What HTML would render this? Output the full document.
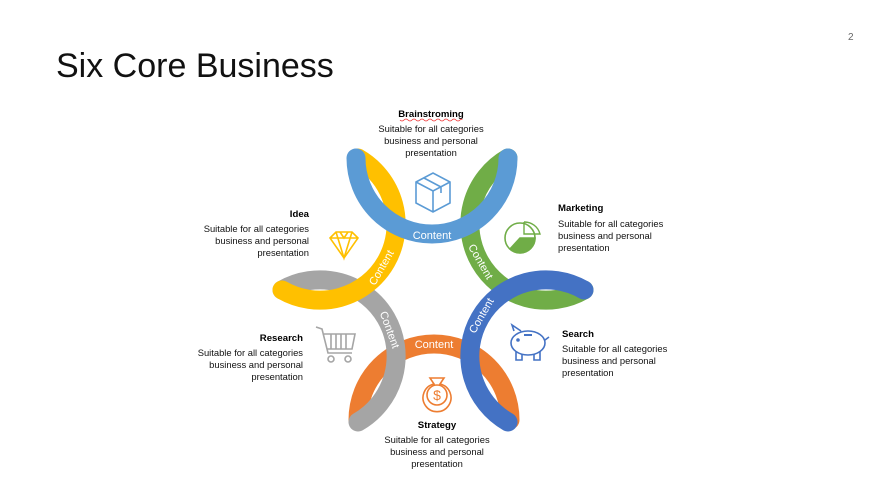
<!DOCTYPE html>
<html><head><meta charset="utf-8"><style>
body{margin:0;background:#fff;}
svg{display:block;font-family:"Liberation Sans",sans-serif;}
.t{font-size:9.4px;fill:#111;}
.b{font-size:9.6px;font-weight:bold;fill:#000;}
.c{font-size:11px;fill:#fff;}
</style></head><body>
<svg width="877" height="489" viewBox="0 0 877 489">
<rect width="877" height="489" fill="#fff"/>
<text x="56" y="77" font-size="34" fill="#111">Six Core Business</text>
<text x="848" y="40" font-size="10" fill="#666">2</text>

<g fill="none" stroke-width="19" stroke-linecap="round">
<path d="M358,420 A76,76 0 0 1 510,420" stroke="#ED7D31"/>
<path d="M282,290 A76,76 0 0 1 358,422" stroke="#A5A5A5"/>
<path d="M358,158 A76,76 0 0 1 282,290" stroke="#FFC000"/>
<path d="M508,158 A76,76 0 0 0 584,290" stroke="#70AD47"/>
<path d="M356,158 A76,76 0 0 0 508,158" stroke="#5B9BD5"/>
<path d="M584,290 A76,76 0 0 0 508,422" stroke="#4472C4"/>
</g>
<g dominant-baseline="middle" text-anchor="middle">
<text class="c" x="432" y="236">Content</text>
<text class="c" x="434" y="345">Content</text>
<text class="c" transform="translate(480,262) rotate(60)">Content</text>
<text class="c" transform="translate(482,316) rotate(-60)">Content</text>
<text class="c" transform="translate(389,330) rotate(70)">Content</text>
<text class="c" transform="translate(382,268) rotate(-60)">Content</text>
</g>

<g fill="none" stroke-width="1.6">
<g stroke="#5B9BD5"><path d="M416,182 L433,173 L450,182 L450,203 L433,212 L416,203 Z M416,182 L433,191 L450,182 M433,191 L433,212 M424,178 L441,187 L441,193"/></g>
<g stroke="#FFC000"><path d="M330,238 L336,232 L352,232 L358,238 L344,258 Z M330,238 L358,238 M336,232 L344,258 L352,232 M340,232 L344,238 L348,232"/></g>
<g stroke="#70AD47"><circle cx="520" cy="238" r="15"/><path d="M520,238 L535,238 A15,15 0 0 1 510,249 Z" fill="#70AD47"/><path d="M524,222 L524,234 L540,234 A16,16 0 0 0 524,222" stroke-width="1.4"/></g>
<g stroke="#A5A5A5"><path d="M316,327 L322,329 L328,353 L352,353 M324,334 L355,334 L352,349 L327,349 M331,334 L331,349 M336,334 L336,349 M341,334 L341,349 M346,334 L346,349"/><circle cx="331" cy="359" r="3"/><circle cx="348" cy="359" r="3"/></g>
<g stroke="#4472C4"><ellipse cx="528" cy="343" rx="17" ry="12"/><path d="M514,331 L512,325 L521,331"/><path d="M516,352 L516,360 L522,360 L522,354 M534,354 L534,360 L540,360 L540,351"/><path d="M545,340 L549,337"/><path d="M524,335 L532,335" stroke-width="2"/><circle cx="518" cy="340" r="1" fill="#4472C4"/></g>
<g stroke="#ED7D31"><path d="M430,378 L444,378 L440,384 A14,14 0 1 1 434,384 Z"/><circle cx="437" cy="395" r="10"/><text x="437" y="400" font-size="14" fill="#ED7D31" stroke="none" text-anchor="middle">$</text></g>
</g>

<g text-anchor="middle">
<text class="b" x="431" y="117">Brainstroming</text>
<path d="M400,120 q2,2 4,0 t4,0 t4,0 t4,0 t4,0 t4,0 t4,0 t4,0 t4,0 t4,0 t4,0 t4,0 t4,0 t4,0 t4,0 t2,0" stroke="#e33" stroke-width="0.8" fill="none"/>
<text class="t" x="431" y="132">Suitable for all categories</text>
<text class="t" x="431" y="144">business and personal</text>
<text class="t" x="431" y="156">presentation</text>
<text class="b" x="437" y="428">Strategy</text>
<text class="t" x="437" y="443">Suitable for all categories</text>
<text class="t" x="437" y="455">business and personal</text>
<text class="t" x="437" y="467">presentation</text>
</g>
<g text-anchor="end">
<text class="b" x="309" y="217">Idea</text>
<text class="t" x="309" y="232">Suitable for all categories</text>
<text class="t" x="309" y="244">business and personal</text>
<text class="t" x="309" y="256">presentation</text>
<text class="b" x="303" y="341">Research</text>
<text class="t" x="303" y="356">Suitable for all categories</text>
<text class="t" x="303" y="368">business and personal</text>
<text class="t" x="303" y="380">presentation</text>
</g>
<g>
<text class="b" x="558" y="211">Marketing</text>
<text class="t" x="558" y="227">Suitable for all categories</text>
<text class="t" x="558" y="239">business and personal</text>
<text class="t" x="558" y="251">presentation</text>
<text class="b" x="562" y="337">Search</text>
<text class="t" x="562" y="352">Suitable for all categories</text>
<text class="t" x="562" y="364">business and personal</text>
<text class="t" x="562" y="376">presentation</text>
</g>
</svg>
</body></html>
